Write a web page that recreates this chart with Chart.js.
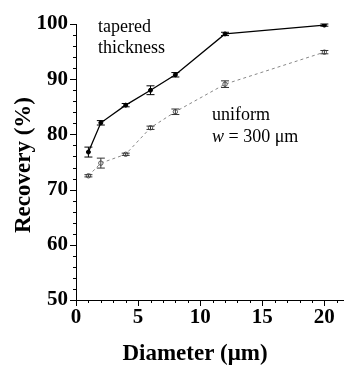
<!DOCTYPE html>
<html>
<head>
<meta charset="utf-8">
<script src="https://cdn.jsdelivr.net/npm/chart.js@4.4.1/dist/chart.umd.min.js"></script>
<style>
  body { margin: 0; background: #fff; }
  #wrap { width: 348px; height: 370px; }
</style>
</head>
<body>
<div id="wrap"><canvas id="myChart" width="348" height="370"></canvas></div>
<script>
// data
var diameters = [1, 2, 4, 6, 8, 12, 20];
var tapered = [76.8, 82.1, 85.3, 88.0, 90.8, 98.2, 99.8];
var taperedErr = [0.9, 0.4, 0.3, 0.8, 0.4, 0.3, 0.2];
var uniform = [72.5, 74.8, 76.4, 81.2, 84.1, 89.1, 94.9];
var uniformErr = [0.2, 0.9, 0.2, 0.3, 0.5, 0.6, 0.3];

var xTicks = [0, 5, 10, 15, 20];
var yTicks = [50, 60, 70, 80, 90, 100];

var serif = "'Liberation Serif', 'Times New Roman', serif";

function toPoints(xs, ys) {
  var pts = [];
  for (var i = 0; i < xs.length; i++) pts.push({ x: xs[i], y: ys[i] });
  return pts;
}

// error bars, minor ticks, text labels
var extras = {
  id: 'extras',
  afterDatasetsDraw: function(chart) {
    var ctx = chart.ctx;
    var xs = chart.scales.x, ys = chart.scales.y;
    var area = chart.chartArea;
    ctx.save();

    // error bars
    var sets = [[tapered, taperedErr, '#000'], [uniform, uniformErr, '#333']];
    sets.forEach(function(s) {
      ctx.strokeStyle = s[2];
      ctx.lineWidth = 1;
      for (var i = 0; i < diameters.length; i++) {
        var px = xs.getPixelForValue(diameters[i]);
        var top = ys.getPixelForValue(s[0][i] + s[1][i]);
        var bot = ys.getPixelForValue(s[0][i] - s[1][i]);
        ctx.beginPath();
        ctx.moveTo(px, top); ctx.lineTo(px, bot);
        ctx.moveTo(px - 4, top); ctx.lineTo(px + 4, top);
        ctx.moveTo(px - 4, bot); ctx.lineTo(px + 4, bot);
        ctx.stroke();
      }
    });

    // x ticks (outward, down), minor every 1
    ctx.strokeStyle = '#000';
    ctx.lineWidth = 1;
    ctx.beginPath();
    for (var v = 0; v <= 21; v++) {
      var px = Math.round(xs.getPixelForValue(v)) + 0.5;
      var len = (v % 5 === 0) ? 6 : 3;
      ctx.moveTo(px, area.bottom);
      ctx.lineTo(px, area.bottom + len);
    }
    // y ticks (outward, left), minor every 2
    for (var w = 50; w <= 100; w += 2) {
      var py = Math.round(ys.getPixelForValue(w)) + 0.5;
      var l2 = (w % 10 === 0) ? 6 : 3;
      ctx.moveTo(area.left, py);
      ctx.lineTo(area.left - l2, py);
    }
    ctx.stroke();

    // annotations
    ctx.fillStyle = '#000';
    ctx.textAlign = 'left';
    ctx.textBaseline = 'alphabetic';
    ctx.font = "18px " + serif;
    ctx.fillText('tapered', 98, 32);
    ctx.fillText('thickness', 98, 53);
    ctx.fillText('uniform', 212, 120);
    ctx.font = "italic 18px " + serif;
    ctx.fillText('w', 212, 142);
    var ww = ctx.measureText('w').width;
    ctx.font = "18px " + serif;
    ctx.fillText(' = 300 \u03bcm', 212 + ww, 142);

    // axis titles
    ctx.font = "bold 23px " + serif;
    ctx.textAlign = 'center';
    ctx.textBaseline = 'middle';
    ctx.fillText('Diameter (\u03bcm)', 195, 354);
    ctx.translate(24, 165);
    ctx.rotate(-Math.PI / 2);
    ctx.fillText('Recovery (%)', 0, 0);
    ctx.restore();
  }
};

var ctx = document.getElementById('myChart').getContext('2d');
var myChart = new Chart(ctx, {
  type: 'scatter',
  data: {
    datasets: [{
      label: 'tapered thickness',
      data: toPoints(diameters, tapered),
      showLine: true,
      borderColor: '#000',
      borderWidth: 1.3,
      backgroundColor: '#000',
      pointRadius: 2,
      pointBorderWidth: 1
    }, {
      label: 'uniform',
      data: toPoints(diameters, uniform),
      showLine: true,
      borderColor: '#888',
      borderWidth: 1,
      borderDash: [3, 3],
      backgroundColor: '#fff',
      pointBorderColor: '#555',
      pointRadius: 2.2,
      pointBorderWidth: 1
    }]
  },
  options: {
    responsive: false,
    animation: false,
    layout: { padding: { top: 24, right: 1, left: 0, bottom: 0 } },
    plugins: { legend: { display: false }, tooltip: { enabled: false } },
    scales: {
      x: {
        type: 'linear',
        min: 0,
        max: 21.5,
        afterFit: function(scale) { scale.height = 70; },
        afterBuildTicks: function(scale) {
          scale.ticks = xTicks.map(function(v) { return { value: v }; });
        },
        ticks: {
          color: '#000',
          padding: 0,
          maxRotation: 0,
          font: { family: serif, size: 21, weight: 'bold' }
        },
        grid: { color: 'rgba(0,0,0,0)', tickLength: 5 },
        border: { display: true, color: '#000', width: 1 }
      },
      y: {
        min: 50,
        max: 100,
        afterFit: function(scale) { scale.width = 76; },
        afterBuildTicks: function(scale) {
          scale.ticks = yTicks.map(function(v) { return { value: v }; });
        },
        ticks: {
          color: '#000',
          padding: 2,
          font: { family: serif, size: 21, weight: 'bold' }
        },
        grid: { color: 'rgba(0,0,0,0)', tickLength: 6 },
        border: { display: true, color: '#000', width: 1 }
      }
    }
  },
  plugins: [extras]
});
</script>
</body>
</html>
